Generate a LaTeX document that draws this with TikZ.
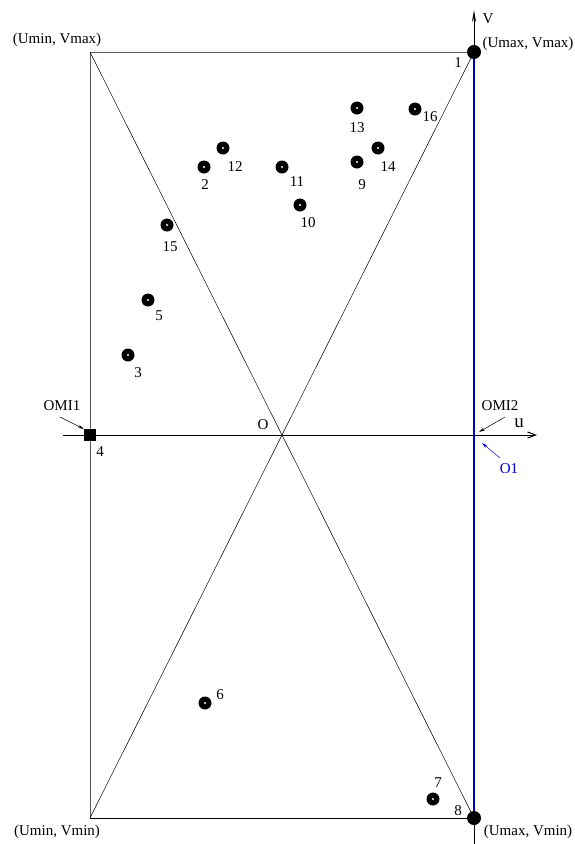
\documentclass[tikz,border=0pt]{standalone}
\usepackage{fontspec}
\setmainfont{Liberation Serif}
\usetikzlibrary{arrows.meta}
\begin{document}
\begin{tikzpicture}[x=1pt,y=-1pt,
  lbl/.style={inner sep=0pt,font=\fontsize{15}{17}\selectfont},
  pt/.style={circle,fill=black,minimum size=13pt,inner sep=0pt,
    path picture={\fill[white] (path picture bounding box.center) circle (1.2pt);}},
  bigpt/.style={circle,fill=black,minimum size=14pt,inner sep=0pt},
  frame/.style={draw=gray!70!black,line width=1pt},
  thin/.style={draw=black,line width=0.5pt},
  ptr/.style={draw=black,line width=0.5pt,-{Stealth[length=6pt,width=3pt]}}]
\useasboundingbox (0,0) rectangle (575,844);
% corners
\coordinate (TL) at (90,52);
\coordinate (TR) at (474,52);
\coordinate (BL) at (90,818);
\coordinate (BR) at (474,818);
\coordinate (O) at (282,435);
\coordinate (uL) at (63,435);
\coordinate (uR) at (537,435);
\coordinate (vB) at (474,844);
\coordinate (vT) at (474,10);
% frame
\draw[frame] (BL) -- (TL) -- (TR);
\draw[thin,line width=0.8pt] (BL) -- (BR);
\draw[thin] (TL) -- (BR);
\draw[thin] (TR) -- (BL);
% axes
\draw[line width=1pt,-{Straight Barb[length=8pt,width=6pt]}] (uL) -- (uR);
\draw[line width=1pt,-{Stealth[length=12pt,width=4pt]}] (vB) -- (vT);
\draw[blue!80!black,line width=1.4pt] (TR) -- (BR);
% big points
\node[bigpt] (p1) at (TR) {};
\node[bigpt] (p8) at (BR) {};
\node[fill=black,minimum size=12pt,inner sep=0pt] (p4) at (90,435) {};
% points
\node[pt] (p2) at (204,167) {};
\node[pt] (p12) at (223,148) {};
\node[pt] (p11) at (282,167) {};
\node[pt] (p10) at (300,205) {};
\node[pt] (p13) at (357,108) {};
\node[pt] (p16) at (415,109) {};
\node[pt] (p14) at (378,148) {};
\node[pt] (p9) at (357,162) {};
\node[pt] (p15) at (167,225) {};
\node[pt] (p5) at (148,300) {};
\node[pt] (p3) at (128,355) {};
\node[pt] (p6) at (205,703) {};
\node[pt] (p7) at (433,799) {};
% point labels
\node[lbl] (l1) at (458,63) {1};
\node[lbl] (l2) at (205,185) {2};
\node[lbl] (l3) at (138,373) {3};
\node[lbl] (l4) at (100,452) {4};
\node[lbl] (l5) at (159,316) {5};
\node[lbl] (l6) at (220,695) {6};
\node[lbl] (l7) at (438,783) {7};
\node[lbl] (l8) at (458,811) {8};
\node[lbl] (l9) at (362,185) {9};
\node[lbl] (l10) at (308,223) {10};
\node[lbl] (l11) at (297,182) {11};
\node[lbl] (l12) at (235,167) {12};
\node[lbl] (l13) at (357,128) {13};
\node[lbl] (l14) at (388,167) {14};
\node[lbl] (l15) at (170,247) {15};
\node[lbl] (l16) at (430,117) {16};
% corner labels
\node[lbl] (cTL) at (57,40) {(Umin, Vmax)};
\node[lbl] (cTR) at (528,44) {(Umax, Vmax)};
\node[lbl] (cBL) at (57,832) {(Umin, Vmin)};
\node[lbl] (cBR) at (528,832) {(Umax, Vmin)};
% axis labels
\node[lbl] (lu) at (519,423) {\fontsize{19}{19}\selectfont u};
\node[lbl] (lv) at (488,19) {V};
\node[lbl] (lO) at (263,425) {O};
\node[lbl] (omi1) at (62,406) {OMI1};
\node[lbl] (omi2) at (500,406) {OMI2};
\node[lbl,text=blue!80!black] (o1) at (509,469) {O1};
\coordinate (a1s) at (60,417);
\coordinate (a1e) at (84,429);
\coordinate (a2s) at (505,417);
\coordinate (a2e) at (479,432);
\coordinate (a3s) at (500,458);
\coordinate (a3e) at (482,443);
\draw[ptr] (a1s) -- (a1e);
\draw[ptr] (a2s) -- (a2e);
\draw[ptr,draw=blue!80!black] (a3s) -- (a3e);
\end{tikzpicture}
\end{document}
